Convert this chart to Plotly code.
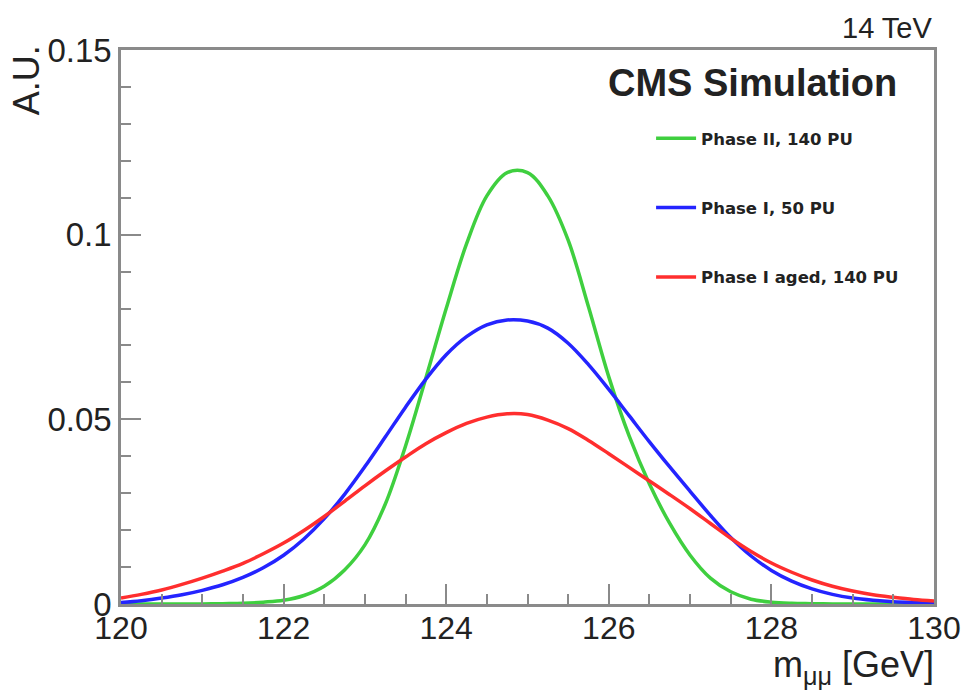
import plotly.graph_objects as go

# ---- data ----
mass = [120.0, 120.25, 120.5, 120.75, 121.0, 121.25, 121.5, 121.75, 122.0, 122.25, 122.5, 122.75,
        123.0, 123.25, 123.5, 123.75, 124.0, 124.25, 124.5, 124.75, 125.0, 125.25, 125.5, 125.75,
        126.0, 126.25, 126.5, 126.75, 127.0, 127.25, 127.5, 127.75, 128.0, 128.25, 128.5, 128.75,
        129.0, 129.25, 129.5, 129.75, 130.0]

green_y = [0.0, 0.0, 0.0, 0.0, 0.0, 0.0001, 0.0002, 0.0005, 0.001, 0.0023, 0.0048, 0.0092,
           0.016, 0.027, 0.0428, 0.0612, 0.080, 0.0975, 0.1105, 0.1168, 0.1168, 0.1105, 0.0985, 0.0805,
           0.0615, 0.0455, 0.0325, 0.0218, 0.0132, 0.0070, 0.0033, 0.0013, 0.0005, 0.0002, 0.0001, 0.0,
           0.0, 0.0, 0.0, 0.0, 0.0]

blue_y = [0.0004, 0.0009, 0.0016, 0.0025, 0.0037, 0.0052, 0.0072, 0.0098, 0.0132, 0.0176, 0.0231, 0.0297,
          0.0372, 0.0452, 0.0533, 0.0609, 0.0675, 0.0724, 0.0756, 0.0769, 0.0766, 0.0747, 0.0706, 0.0648,
          0.0581, 0.051, 0.0439, 0.0371, 0.0305, 0.0240, 0.0180, 0.0130, 0.0091, 0.0062, 0.0041, 0.0026,
          0.0016, 0.001, 0.0006, 0.0004, 0.0003]

red_y = [0.0016, 0.0026, 0.0038, 0.0053, 0.007, 0.0089, 0.011, 0.0136, 0.0165, 0.0199, 0.0237, 0.0278,
         0.032, 0.036, 0.0398, 0.0434, 0.0464, 0.0489, 0.0506, 0.0515, 0.0513, 0.0498, 0.0475, 0.0443,
         0.0407, 0.037, 0.0333, 0.0296, 0.0258, 0.0218, 0.0178, 0.0142, 0.0111, 0.0086, 0.0065, 0.0048,
         0.0035, 0.0025, 0.0018, 0.0012, 0.0008]

series_names = ["Phase II, 140 PU", "Phase I, 50 PU", "Phase I aged, 140 PU"]
series_colors = ["#3fcf3f", "#2424ff", "#ff2e2e"]

y_tickvals = [0, 0.05, 0.1, 0.15]
y_ticktext = ["0", "0.05", "0.1", "0.15"]
x_tickvals = [120, 122, 124, 126, 128, 130]
x_ticktext = ["120", "122", "124", "126", "128", "130"]

fig = go.Figure()
for i, ys in enumerate([green_y, blue_y, red_y]):
    fig.add_trace(go.Scatter(
        x=mass, y=ys, mode="lines", name=series_names[i],
        legendgroup=f"g{i}",
        line=dict(color=series_colors[i], width=3.5, shape="spline", smoothing=1.0),
    ))

axis_col = "#8a8a8a"
font_main = "Liberation Sans, Arial, sans-serif"
txt_col = "#222222"

fig.update_layout(
    width=974, height=691,
    margin=dict(l=121, r=40, t=50, b=87),
    paper_bgcolor="white", plot_bgcolor="white",
    font=dict(family=font_main, color=txt_col),
    showlegend=True,
    legend=dict(
        x=0.652, y=0.872, xanchor="left", yanchor="top",
        bgcolor="rgba(0,0,0,0)", borderwidth=0,
        font=dict(family="DejaVu Sans, sans-serif", size=16.5, color=txt_col, weight="bold"),
        tracegroupgap=45, itemwidth=40,
    ),
    xaxis=dict(
        range=[120, 130], showgrid=False, zeroline=False,
        showline=True, linecolor=axis_col, linewidth=2.5, mirror=True,
        ticks="inside", ticklen=20, tickwidth=2, tickcolor=axis_col,
        tickvals=x_tickvals, ticktext=x_ticktext,
        tickfont=dict(size=32, color=txt_col),
        ticklabelstandoff=-6,
        minor=dict(ticks="inside", ticklen=10, tickwidth=2, tickcolor=axis_col, dtick=0.5, showgrid=False),
    ),
    yaxis=dict(
        range=[0, 0.15], showgrid=False, zeroline=False,
        showline=True, linecolor=axis_col, linewidth=2.5, mirror=True,
        ticks="inside", ticklen=20, tickwidth=2, tickcolor=axis_col,
        tickvals=y_tickvals, ticktext=y_ticktext,
        tickfont=dict(size=33, color=txt_col),
        minor=dict(ticks="inside", ticklen=10, tickwidth=2, tickcolor=axis_col, dtick=0.01, showgrid=False),
    ),
)

# axis titles and labels
fig.add_annotation(text="A.U.", xref="paper", yref="paper", x=-0.117, y=1.012,
                   xanchor="center", yanchor="top", textangle=-90, showarrow=False,
                   font=dict(size=36, family=font_main, color=txt_col))
fig.add_annotation(text="m<sub>μμ</sub> [GeV]", xref="paper", yref="paper", x=1.003, y=-0.068,
                   xanchor="right", yanchor="top", showarrow=False,
                   font=dict(size=36, family=font_main, color=txt_col))
fig.add_annotation(text="14 TeV", xref="paper", yref="paper", x=1.0, y=1.008,
                   xanchor="right", yanchor="bottom", showarrow=False,
                   font=dict(size=29, family=font_main, color=txt_col))
fig.add_annotation(text="<b>CMS Simulation</b>", xref="paper", yref="paper", x=0.957, y=0.982,
                   xanchor="right", yanchor="top", showarrow=False,
                   font=dict(size=38, family=font_main, color=txt_col))

fig.write_html("out.html")
